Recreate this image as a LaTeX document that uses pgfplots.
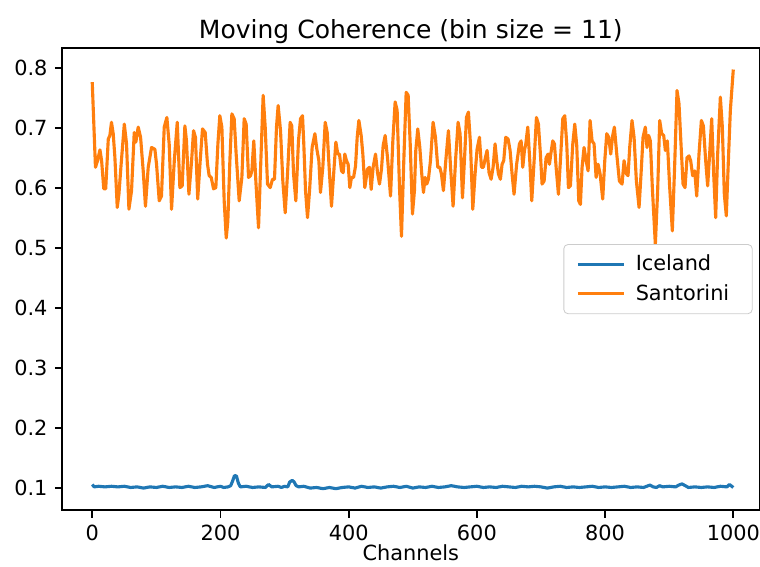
\documentclass[border=0pt]{standalone}
\usepackage{fontspec}
\setmainfont{DejaVu Sans}
\usepackage{pgfplots}
\pgfplotsset{compat=1.18}
\definecolor{mplblue}{HTML}{1F77B4}
\definecolor{mplorange}{HTML}{FF7F0E}
\begin{document}
\begin{tikzpicture}
\useasboundingbox (-29.8pt,-26.9pt) rectangle (334.8pt,244.8pt);
\begin{axis}[
  scale only axis,
  width=334.6pt, height=221.8pt,
  xmin=-47, xmax=1041,
  ymin=0.063, ymax=0.834,
  xtick={0,200,400,600,800,1000},
  ytick={0.1,0.2,0.3,0.4,0.5,0.6,0.7,0.8},
  xticklabel style={/pgf/number format/set thousands separator={}},
  yticklabel style={/pgf/number format/fixed,/pgf/number format/precision=1,/pgf/number format/fixed zerofill},
  /pgf/number format/assume math mode=true,
  tick align=outside,
  major tick length=3.5pt,
  every tick/.style={black, line width=0.8pt},
  axis line style={line width=0.8pt},
  xtick pos=bottom, ytick pos=left,
  ticklabel style={font=\fontsize{10}{12}\selectfont},
  title={Moving Coherence (bin size = 11)},
  title style={font=\fontsize{12}{14}\selectfont, yshift=-7.5pt},
  xlabel={Channels},
  xlabel style={font=\fontsize{10}{12}\selectfont, yshift=5pt},
  legend style={at={(0.99,0.5)}, anchor=east, draw=black!20, rounded corners=2pt,
    font=\fontsize{10}{12}\selectfont, row sep=1pt, inner xsep=6pt, inner ysep=3pt,
    nodes={inner xsep=5pt}},
  legend cell align=left,
  legend image code/.code={\draw[#1, line width=1.5pt] (0pt,0pt) -- (22pt,0pt);},
]
\addplot[mplblue, line width=1.5pt, line join=round] coordinates {
(0,0.106)(3,0.102)(10,0.103)(20,0.102)(30,0.103)(40,0.102)(50,0.103)(60,0.101)(70,0.102)(80,0.100)
(90,0.102)(100,0.101)(110,0.103)(120,0.101)(130,0.102)(140,0.101)(150,0.103)(160,0.101)(170,0.102)
(180,0.104)(190,0.101)(200,0.103)(205,0.101)(212,0.102)(216,0.104)(219,0.112)(222,0.121)(225,0.120)
(228,0.108)(231,0.102)(240,0.103)(250,0.101)(260,0.102)(270,0.101)(275,0.106)(280,0.102)(290,0.103)
(295,0.101)(300,0.103)(305,0.102)(308,0.110)(312,0.113)(315,0.110)(318,0.104)(322,0.102)(330,0.103)
(340,0.100)(350,0.101)(360,0.099)(370,0.101)(380,0.099)(390,0.101)(400,0.102)(410,0.100)(420,0.103)
(430,0.101)(440,0.102)(450,0.100)(460,0.102)(470,0.103)(480,0.101)(490,0.103)(500,0.100)(510,0.102)
(520,0.101)(530,0.103)(540,0.101)(550,0.102)(560,0.104)(570,0.102)(580,0.101)(590,0.102)(600,0.103)
(610,0.101)(620,0.102)(630,0.101)(640,0.103)(650,0.102)(660,0.101)(670,0.103)(680,0.102)(690,0.103)
(700,0.102)(710,0.100)(720,0.102)(730,0.103)(740,0.101)(750,0.102)(760,0.101)(770,0.102)(780,0.103)
(790,0.101)(800,0.102)(810,0.101)(820,0.102)(830,0.103)(840,0.101)(850,0.102)(860,0.101)(870,0.105)
(875,0.102)(880,0.101)(885,0.104)(890,0.102)(900,0.103)(910,0.102)(915,0.105)(920,0.107)(925,0.104)
(930,0.101)(940,0.102)(950,0.101)(960,0.102)(970,0.101)(980,0.103)(990,0.102)(994,0.106)(1000,0.101)
};
\addlegendentry{Iceland}
\addplot[mplorange, line width=1.5pt, line join=round] coordinates {
(0,0.777)(5,0.635)(8.3,0.646)(12,0.664)(14.6,0.646)(18,0.599)(21,0.599)(25,0.682)(27.5,0.688)(30,0.710)
(32.7,0.691)(35.3,0.652)(39,0.568)(41.6,0.590)(44.7,0.635)(50,0.707)(53.5,0.674)(57.2,0.565)(61.3,0.596)
(65.5,0.693)(68,0.677)(71.7,0.702)(75.4,0.685)(79.5,0.629)(83,0.570)(87.3,0.635)(92.5,0.668)(97.7,0.665)
(100.3,0.640)(104.5,0.579)(108,0.587)(112.3,0.702)(116.4,0.718)(120,0.674)(123.7,0.565)(128,0.646)
(132.6,0.710)(136.7,0.601)(140.3,0.604)(144.5,0.704)(147,0.679)(150.8,0.590)(155,0.646)(158,0.696)
(161,0.685)(164.5,0.582)(168.4,0.646)(172,0.699)(176.2,0.693)(179.8,0.640)(182.4,0.621)(185.6,0.618)
(189.2,0.599)(192.8,0.601)(196,0.674)(199,0.721)(202.2,0.702)(205.8,0.579)(209,0.517)(211.5,0.545)
(214.7,0.646)(217.8,0.724)(221.4,0.716)(224.5,0.657)(229.2,0.579)(233.4,0.618)(237,0.716)(240.1,0.707)
(243.8,0.618)(246.9,0.621)(249,0.629)(252,0.679)(255.2,0.612)(259.4,0.534)(263,0.646)(266.6,0.755)
(269.8,0.702)(273.4,0.607)(277.6,0.601)(281.2,0.615)(284.3,0.615)(287.4,0.702)(290,0.738)(293.7,0.696)
(297.3,0.612)(301,0.559)(304.6,0.624)(308.7,0.710)(311.3,0.704)(314,0.624)(317.6,0.579)(321.7,0.679)
(324.9,0.716)(328,0.721)(330,0.674)(332.7,0.596)(335.8,0.551)(339,0.596)(343,0.668)(347.3,0.691)
(350.4,0.665)(353.5,0.646)(356,0.593)(359.7,0.635)(363.4,0.710)(366.5,0.693)(370.1,0.624)(373.2,0.570)
(376.9,0.629)(380,0.677)(383.1,0.657)(385.7,0.657)(388.8,0.629)(391.4,0.626)(394,0.657)(396.6,0.646)
(399.2,0.640)(401.8,0.601)(404.4,0.618)(407.6,0.618)(410.7,0.637)(413.3,0.685)(415.9,0.713)(419.5,0.688)
(422.1,0.657)(425.2,0.601)(429.4,0.632)(432.5,0.635)(435.1,0.598)(438.2,0.635)(441.9,0.657)(445,0.626)
(448.1,0.607)(451.2,0.632)(453.8,0.671)(456.9,0.688)(460.6,0.651)(465.3,0.587)(468.9,0.679)(472.5,0.744)
(475.6,0.730)(479.3,0.601)(482.4,0.520)(486,0.646)(489.7,0.760)(492.8,0.755)(496,0.674)(499.5,0.557)
(502.6,0.596)(504.7,0.663)(507.8,0.699)(511,0.668)(514,0.624)(516.7,0.593)(519.3,0.618)(521.8,0.607)
(524.4,0.615)(527.6,0.646)(531.7,0.710)(535.4,0.685)(539,0.635)(542.1,0.635)(544.7,0.624)(547.8,0.596)
(551.5,0.646)(555.6,0.696)(559.3,0.629)(562.9,0.570)(567,0.651)(570.7,0.710)(573.8,0.691)(577.5,0.584)
(581.1,0.657)(583.7,0.718)(586.8,0.727)(590,0.674)(593.6,0.565)(597.2,0.624)(600.3,0.665)(604,0.685)
(607.1,0.635)(610.2,0.635)(613.3,0.651)(615.9,0.663)(619,0.626)(622.2,0.615)(625.3,0.635)(628.4,0.674)
(631,0.646)(633.6,0.624)(636.7,0.615)(639.3,0.640)(641.9,0.646)(645,0.685)(648.7,0.682)(651.8,0.663)
(654.9,0.624)(658,0.590)(662,0.640)(666.4,0.674)(669,0.679)(671.6,0.635)(674.2,0.663)(676.3,0.674)
(679.4,0.702)(682.5,0.646)(685.6,0.579)(689.3,0.646)(692.9,0.718)(696,0.707)(699.1,0.657)(701.7,0.607)
(704.9,0.612)(708,0.651)(711.1,0.657)(713.2,0.640)(715.3,0.657)(718.4,0.679)(721,0.674)(723.6,0.635)
(727.2,0.590)(730.3,0.646)(734,0.716)(737.1,0.721)(740.2,0.674)(742.8,0.601)(745.9,0.604)(749.6,0.674)
(752.7,0.707)(755.8,0.671)(758.9,0.579)(761.5,0.573)(764.1,0.635)(767.2,0.668)(770.4,0.646)(773.5,0.629)
(776.6,0.713)(779.7,0.679)(782.8,0.674)(786,0.618)(789.1,0.640)(792.2,0.624)(796.3,0.582)(799.5,0.646)
(802.6,0.691)(805.7,0.685)(808.8,0.657)(811.9,0.688)(814.5,0.702)(818.2,0.657)(822.3,0.612)(826.5,0.607)
(829.6,0.646)(833.2,0.624)(835.8,0.621)(838.4,0.668)(842,0.713)(845.2,0.685)(848.8,0.612)(853,0.568)
(856.1,0.624)(859.2,0.685)(862.8,0.702)(865.4,0.668)(868,0.688)(870.6,0.679)(873.7,0.601)(878.4,0.506)
(882,0.596)(885.2,0.713)(888.3,0.691)(891.4,0.688)(894,0.663)(897.1,0.679)(900.8,0.601)(904.9,0.529)
(908.6,0.640)(912.2,0.763)(915.3,0.741)(918.4,0.674)(921.6,0.607)(924.7,0.601)(927.8,0.651)(930.9,0.654)
(933.5,0.646)(936.6,0.621)(939.8,0.629)(942.9,0.587)(946.5,0.657)(950.2,0.713)(953.3,0.704)(956.9,0.646)
(960,0.604)(963.1,0.657)(966.3,0.716)(969.4,0.624)(972.5,0.551)(975.6,0.657)(979.8,0.752)(982.9,0.702)
(986,0.590)(989.1,0.554)(992.3,0.646)(995.4,0.730)(1000,0.798)
};
\addlegendentry{Santorini}
\end{axis}
\end{tikzpicture}
\end{document}
